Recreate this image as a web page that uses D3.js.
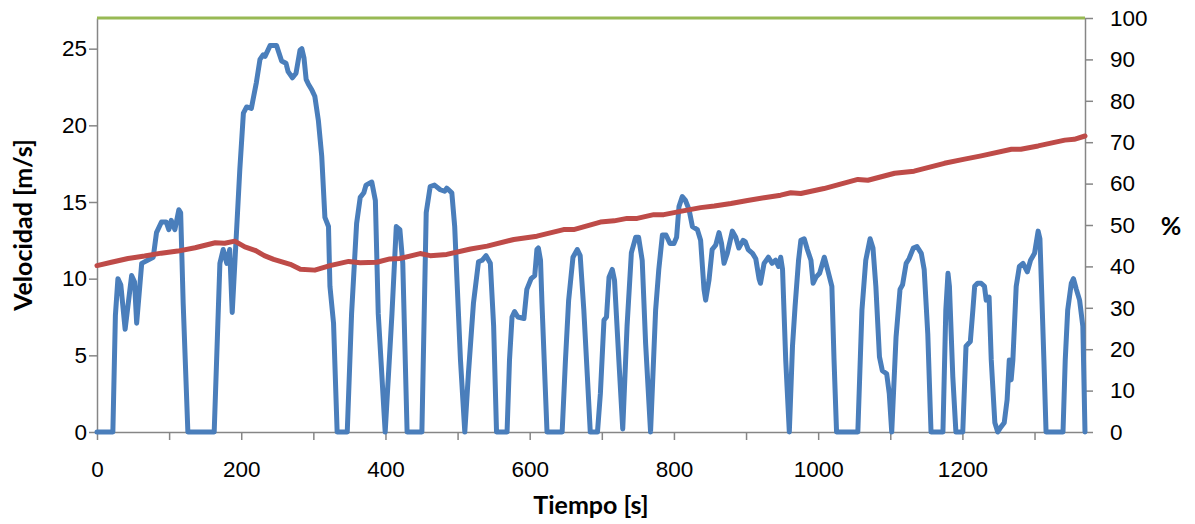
<!DOCTYPE html>
<html>
<head>
<meta charset="utf-8">
<script src="https://cdn.jsdelivr.net/npm/d3@7"></script>
<style>
  body { margin: 0; background: #fff; }
  svg { display: block; font-family: Lato, "Open Sans", sans-serif; }
  .axis path, .axis line { stroke: #868686; stroke-width: 1.5; }
  .axis text { font-size: 22.5px; fill: #000; }
  .title { font-size: 25px; font-weight: bold; fill: #000; }
</style>
</head>
<body>
<svg></svg>
<script>
// velocidad (m/s)
var speedTime = [0,22,25.5,29,33,39,48,52,55,62,78,82.5,89.4,96,99.6,103,108,113.5,116,119.5,126,162.5,
  170.4,175,180,184,187.5,193.6,198,203,207.5,214,221,226,230.5,233,240,249,256,262,265,271,276,281.5,284,
  287,290,293,298,302,307,311.6,316,321,323,328,333,347,353,360,365,370,373,381,386,390,399.6,409,415,420,
  424,430,450.5,456.5,462,468,476,482,485,492,496,499,504,510,515,522,529,534,539.5,545.4,550,554,568.6,572,
  575.5,579,583.6,592,596,602,607,610,612,615,617,624,645,649.6,654,660,666,670,675,680,684,694,698,703,
  706.5,710,714.5,717.6,723.6,729,735,741,747,751,756,760.7,767.6,774.6,779,784,789,794.5,800,803.7,807,
  811.6,816,821,825.6,832.5,837,841.7,844,848.6,853,858,862.5,866,869.5,874,881,885.7,890,896,899,903,909,
  913.5,918,920,925,931,936,941,945,948,950.6,955,960,964.4,968,972.8,976,980.6,985,990,993,997,1002,
  1008.5,1013,1019,1022,1025.5,1055,1060.7,1066,1072,1076,1080,1085,1089,1095,1098.6,1102,1108,1113.5,1117,
  1122,1126,1132,1137,1143,1147,1152,1156.5,1173,1177,1180,1182,1186.7,1191,1200.5,1205,1211,1214.5,1217,
  1221,1226,1230.6,1233,1237,1240,1245,1249,1253,1258,1262,1265,1267.6,1270,1274.6,1279,1284,1290,1294.5,
  1300,1305,1307.5,1310,1313,1316,1339.5,1342.6,1346,1351,1354,1358,1362.5,1367,1370];
var speedValues = [0,0,7.6,10.0,9.6,6.7,10.2,9.8,7.1,11.0,11.4,13.0,13.7,13.7,13.2,13.8,13.2,14.5,14.3,8.4,0,0,
  11.0,11.9,11.0,11.9,7.8,13.2,17.1,20.8,21.2,21.1,22.8,24.3,24.6,24.5,25.2,25.2,24.2,24.05,23.5,23.1,23.4,24.9,25.0,
  24.4,23.0,22.7,22.3,21.9,20.3,18.0,14.0,13.4,9.5,7.1,0,0,7.7,13.6,15.3,15.6,16.1,16.3,15.1,7.7,0,7.7,13.4,13.2,
  11.0,0,0,14.3,16.0,16.1,15.8,15.7,15.9,15.6,13.4,10.1,4.7,0,3.8,8.4,11.1,11.2,11.5,11.0,6.9,0,0,4.7,
  7.5,7.85,7.5,7.4,9.3,10.0,10.2,11.9,12.0,11.2,8.4,0,0,4.7,8.6,11.4,11.9,11.5,8.0,3.6,0,0,2.5,7.3,
  7.5,10.1,10.6,9.9,4.7,0.2,6.9,11.7,12.7,12.7,11.2,5.8,0,7.95,10.6,12.85,12.85,12.3,12.3,12.7,14.7,
  15.35,15.1,14.5,13.4,13.2,12.5,9.3,8.6,9.9,11.9,12.2,13.0,12.3,11.0,11.65,13.1,12.7,12.0,12.5,12.4,11.9,11.65,
  11.3,10.0,9.7,11.0,11.4,11.0,11.2,10.8,11.4,10.6,4.7,0,5.6,8.2,11.2,12.5,12.6,11.9,11.2,9.7,10.1,10.35,
  11.4,10.6,9.5,4.7,0,0,7.95,11.2,12.6,12.0,9.5,4.9,4.0,3.8,2.5,0,6.2,9.3,9.6,
  11.0,11.3,12.0,12.1,11.65,10.6,6.4,0,0,7.95,10.35,9.5,3.6,0,0,5.6,5.9,7.95,9.5,
  9.7,9.7,9.5,8.6,8.8,4.7,0.6,0,0.3,0.6,2.1,4.7,3.4,4.7,9.5,10.8,11.0,10.45,11.2,
  11.65,13.1,12.6,9.05,4.7,0,0,4.7,7.95,9.7,10.0,9.3,8.6,6.9,0];

// segunda serie (%), eje derecho
var socTime = [0,20,43,66,89,112,136,164,177,191,205,219,232,245,268,282,302,323,349,365,388,406,420,448,462,
  485,518,541,578,610,647,661,698,717,735,749,772,786,809,837,856,879,902,925,948,962,976,1008,1055,1069,
  1106,1133,1175,1203,1226,1268,1281,1305,1342,1355,1370];
var socValues = [40.2,41.0,41.9,42.5,43.2,43.7,44.5,45.7,45.6,46.1,44.7,43.9,42.6,41.7,40.5,39.3,39.1,40.2,41.2,40.9,41.0,
  41.8,41.9,43.1,42.6,42.9,44.2,44.9,46.5,47.3,48.9,48.9,50.7,51.0,51.6,51.6,52.5,52.5,53.3,54.2,54.6,55.2,55.9,
  56.6,57.2,57.8,57.6,58.8,61.0,60.8,62.5,63.0,64.9,65.9,66.7,68.3,68.3,69.1,70.5,70.7,71.5];

// tercera serie, constante
var topTime = [0,1370];
var topValues = [100,100];

var xTicks = [0,100,200,300,400,500,600,700,800,900,1000,1100,1200,1300];
var leftTicks = [0,5,10,15,20,25];
var rightTicks = [0,10,20,30,40,50,60,70,80,90,100];

function chart(){
    var width = 1195,
        height = 524,
        left = 97, right = 1085, top = 18, bottom = 432;

    var svg = d3.select("svg").attr("width",width).attr("height",height);

    var x = d3.scaleLinear().domain([0,1370]).range([left,right]);
    var yL = d3.scaleLinear().domain([0,27]).range([bottom,top]);
    var yR = d3.scaleLinear().domain([0,100]).range([bottom,top]);

    svg.append("g").attr("class","axis")
        .attr("transform","translate(0,"+bottom+")")
        .call(d3.axisBottom(x).tickValues(xTicks).tickSize(8).tickSizeOuter(0).tickPadding(21)
              .tickFormat(function(d){ return d%200==0 ? d : ""; }));

    svg.append("g").attr("class","axis")
        .attr("transform","translate("+left+",0)")
        .call(d3.axisLeft(yL).tickValues(leftTicks).tickSize(8).tickSizeOuter(0).tickPadding(2));

    svg.append("g").attr("class","axis")
        .attr("transform","translate("+right+",0)")
        .call(d3.axisRight(yR).tickValues(rightTicks).tickSize(8).tickSizeOuter(0).tickPadding(17));

    function pts(ts,vs){ return ts.map(function(t,i){ return [t,vs[i]]; }); }

    var lineL = d3.line().x(function(d){ return x(d[0]); }).y(function(d){ return yL(d[1]); });
    var lineR = d3.line().x(function(d){ return x(d[0]); }).y(function(d){ return yR(d[1]); });

    svg.append("path").datum(pts(speedTime,speedValues))
        .attr("d",lineL).attr("fill","none").attr("stroke","#4A7EBB")
        .attr("stroke-width",5).attr("stroke-linejoin","round").attr("stroke-linecap","round");

    svg.append("path").datum(pts(socTime,socValues))
        .attr("d",lineR).attr("fill","none").attr("stroke","#BE4B48")
        .attr("stroke-width",5).attr("stroke-linejoin","round").attr("stroke-linecap","round");

    svg.append("path").datum(pts(topTime,topValues))
        .attr("d",lineR).attr("fill","none").attr("stroke","#98B954")
        .attr("stroke-width",3);

    svg.append("text").attr("class","title")
        .attr("x",(left+right)/2).attr("y",514).attr("text-anchor","middle")
        .text("Tiempo [s]");

    svg.append("text").attr("class","title")
        .attr("transform","translate(32,"+((top+bottom)/2)+") rotate(-90)")
        .attr("text-anchor","middle")
        .text("Velocidad [m/s]");

    svg.append("text").attr("class","title")
        .attr("x",1171).attr("y",235).attr("text-anchor","middle")
        .text("%");
}

chart();
</script>
</body>
</html>
